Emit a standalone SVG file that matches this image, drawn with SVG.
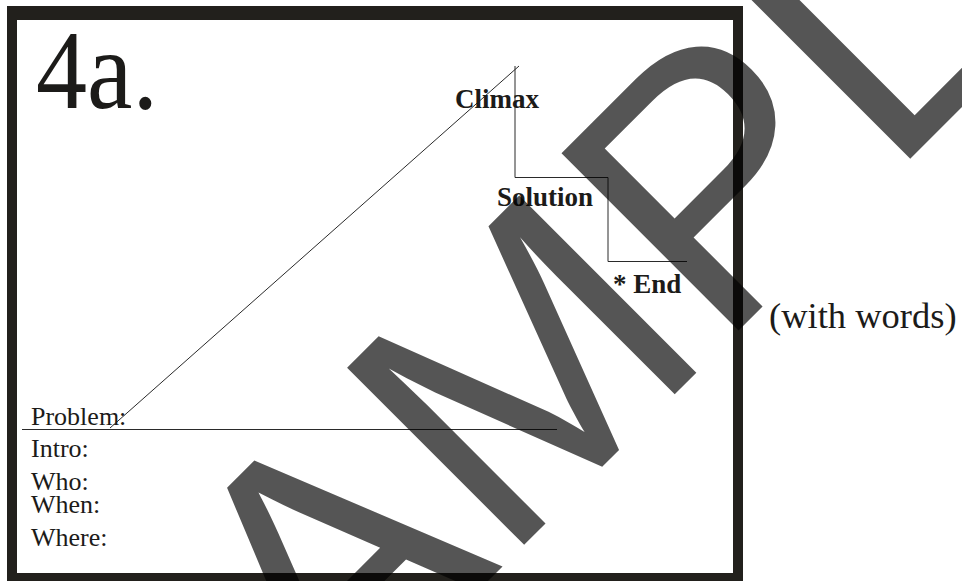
<svg xmlns="http://www.w3.org/2000/svg" width="962" height="581" viewBox="0 0 962 581">
<style>
.lbl{font-family:"Liberation Serif","Times New Roman",serif;fill:#1c1b19}
.b{font-weight:bold;font-size:27px}
.r{font-size:26px}
.ln{stroke:#2a2a2a;stroke-width:1;fill:none}
</style>
<rect width="962" height="581" fill="#fff"/>
<g id="frame">
<path d="M7,6H743V581H7Z M17,20V573H733V20Z" fill="#22201c" fill-rule="evenodd"/>
</g>
<g id="title"><text class="lbl" x="36" y="108" font-size="112" textLength="122" lengthAdjust="spacingAndGlyphs">4a.</text></g>
<g id="connectors">
<line class="ln" x1="110" y1="428" x2="519" y2="66"/>
<polyline class="ln" points="515,66 515,177.5 608,177.5 608,261.5 687,261.5"/>
<line class="ln" x1="22" y1="429.5" x2="557" y2="429.5"/>
</g>
<g id="climax"><text class="lbl b" x="455" y="108">Climax</text></g>
<g id="solution"><text class="lbl b" x="497" y="206">Solution</text></g>
<g id="end"><text class="lbl b" x="613" y="293">* End</text></g>
<g id="note"><text class="lbl" x="769" y="328" font-size="36.5">(with words)</text></g>
<g id="problem"><text class="lbl r" x="31" y="425">Problem:</text></g>
<g id="intro"><text class="lbl r" x="31" y="456.5">Intro:</text></g>
<g id="who"><text class="lbl r" x="31" y="490">Who:</text></g>
<g id="when"><text class="lbl r" x="31" y="513">When:</text></g>
<g id="where"><text class="lbl r" x="31" y="546">Where:</text></g>
<g id="watermark">
<text transform="translate(159.7,909.3) rotate(-45)" font-family="Liberation Sans, Arial, sans-serif" font-size="364" fill="#000" fill-opacity="0.667">SAMPLE</text>
</g>
</svg>
